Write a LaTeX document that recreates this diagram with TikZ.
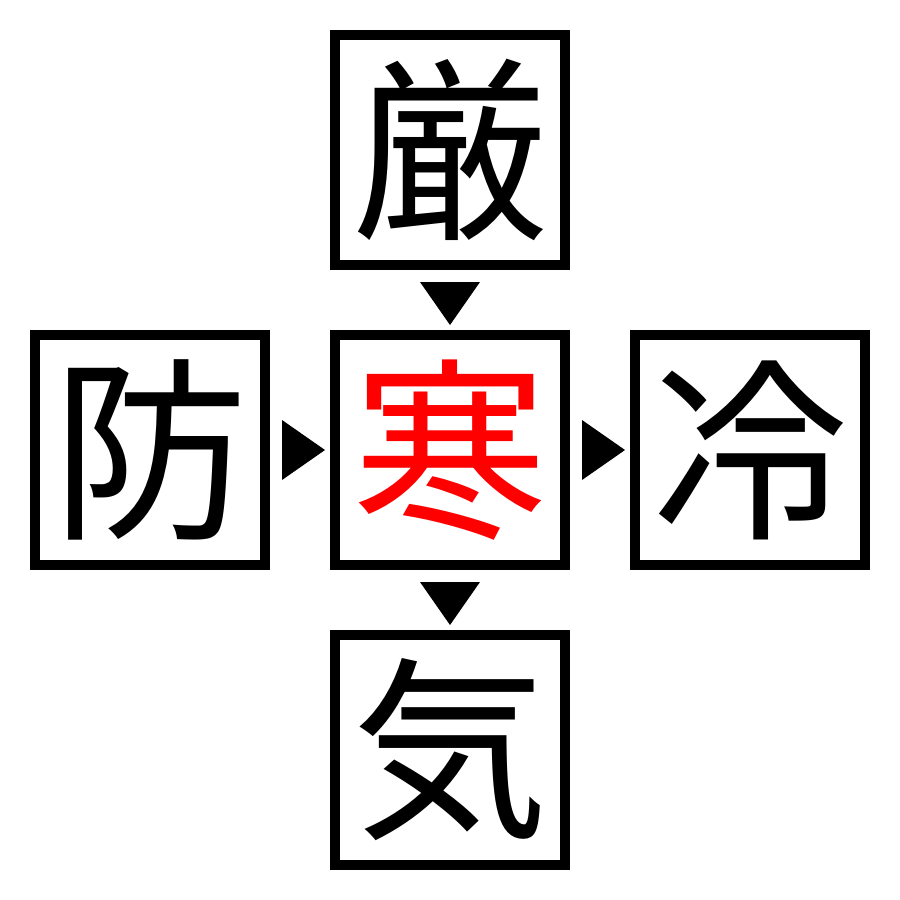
\documentclass[tikz,border=0pt]{standalone}
\usepackage{fontspec}
\usetikzlibrary{calc}
\newfontfamily\cjk{Noto Sans CJK JP}
\begin{document}
\begin{tikzpicture}[x=1pt,y=-1pt,
  kbox/.style={draw=black,line width=10pt,minimum size=230pt,inner sep=0pt,
    font=\cjk\fontsize{196}{196}\selectfont},
  tri/.style={fill=black}]
\useasboundingbox (0,0) rectangle (900,900);
\node[kbox] (top) at (450,150) {厳};
\node[kbox,text=red] (mid) at (450,450) {寒};
\node[kbox] (lft) at (150,450) {防};
\node[kbox] (rgt) at (750,450) {冷};
\node[kbox] (bot) at (450,750) {気};
% down: top -> mid
\fill[tri] ($(mid.north)+(-30,-48)$) -- ($(mid.north)+(30,-48)$) -- ($(mid.north)+(0,-5)$) -- cycle;
% down: mid -> bot
\fill[tri] ($(bot.north)+(-30,-48)$) -- ($(bot.north)+(30,-48)$) -- ($(bot.north)+(0,-5)$) -- cycle;
% right: lft -> mid
\fill[tri] ($(mid.west)+(-48,-30)$) -- ($(mid.west)+(-48,30)$) -- ($(mid.west)+(-5,0)$) -- cycle;
% right: mid -> rgt
\fill[tri] ($(rgt.west)+(-48,-30)$) -- ($(rgt.west)+(-48,30)$) -- ($(rgt.west)+(-5,0)$) -- cycle;
\end{tikzpicture}
\end{document}
